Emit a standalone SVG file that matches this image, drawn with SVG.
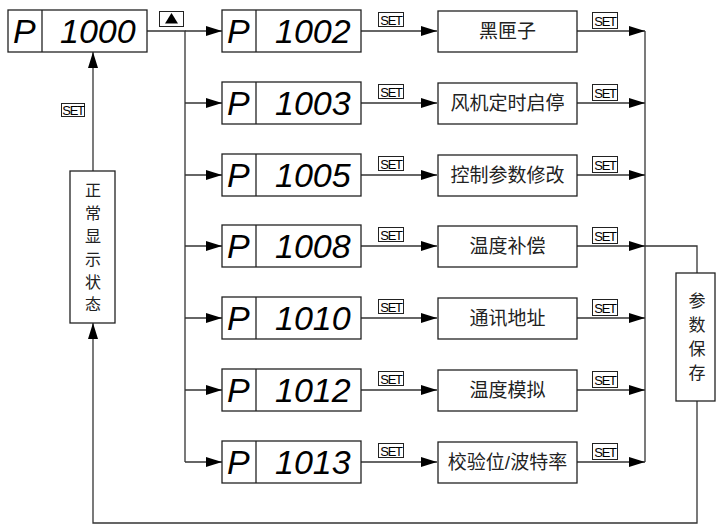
<svg xmlns="http://www.w3.org/2000/svg" width="716" height="526" viewBox="0 0 716 526">
<defs>
<marker id="ah" markerUnits="userSpaceOnUse" markerWidth="16" markerHeight="10" refX="16" refY="5" orient="auto">
<path d="M0,0 L16,5 L0,10 Z" fill="#000"/>
</marker>
<style>
.box{fill:#fff;stroke:#222;stroke-width:1.3}
.ln{fill:none;stroke:#333;stroke-width:1.3}
.seg{font-family:"Liberation Sans",Arial,sans-serif;font-style:italic;font-size:34px;fill:#000}
.cn{font-family:"Liberation Sans","Noto Sans CJK SC",sans-serif;font-size:19px;fill:#222;text-anchor:middle}
.vt{font-family:"Liberation Sans","Noto Sans CJK SC",sans-serif;font-size:16px;fill:#222;text-anchor:middle}
.set{fill:#fff;stroke:#222;stroke-width:1}
.st{font-family:"Liberation Sans",Arial,sans-serif;font-size:13px;fill:#000;text-anchor:middle;letter-spacing:-1.2px}
</style>
</defs>
<rect width="716" height="526" fill="#fff"/>

<g id="connectors">
<path class="ln" d="M147,31 H185 V462"/>
<path class="ln" d="M185,31 H222" marker-end="url(#ah)"/>
<path class="ln" d="M185,103 H222" marker-end="url(#ah)"/>
<path class="ln" d="M185,175 H222" marker-end="url(#ah)"/>
<path class="ln" d="M185,246 H222" marker-end="url(#ah)"/>
<path class="ln" d="M185,318 H222" marker-end="url(#ah)"/>
<path class="ln" d="M185,390 H222" marker-end="url(#ah)"/>
<path class="ln" d="M185,462 H222" marker-end="url(#ah)"/>
<path class="ln" d="M361,31 H437" marker-end="url(#ah)"/>
<path class="ln" d="M361,103 H437" marker-end="url(#ah)"/>
<path class="ln" d="M361,175 H437" marker-end="url(#ah)"/>
<path class="ln" d="M361,246 H437" marker-end="url(#ah)"/>
<path class="ln" d="M361,318 H437" marker-end="url(#ah)"/>
<path class="ln" d="M361,390 H437" marker-end="url(#ah)"/>
<path class="ln" d="M361,462 H437" marker-end="url(#ah)"/>
<path class="ln" d="M577,31 H645" marker-end="url(#ah)"/>
<path class="ln" d="M577,103 H645" marker-end="url(#ah)"/>
<path class="ln" d="M577,175 H645" marker-end="url(#ah)"/>
<path class="ln" d="M577,246 H645" marker-end="url(#ah)"/>
<path class="ln" d="M577,318 H645" marker-end="url(#ah)"/>
<path class="ln" d="M577,390 H645" marker-end="url(#ah)"/>
<path class="ln" d="M577,462 H645" marker-end="url(#ah)"/>
<path class="ln" d="M645,31 V462"/>
<path class="ln" d="M645,246 H697 V273"/>
<path class="ln" d="M697,401 V523 H93 V323" marker-end="url(#ah)"/>
<path class="ln" d="M93,171 V52" marker-end="url(#ah)"/>
<rect class="set" x="61.5" y="103.5" width="23" height="13"/>
<text class="st" x="73" y="114.5">SET</text>
</g>

<g id="p1000">
<rect class="box" x="8" y="10" width="139" height="42"/>
<line class="box" x1="42" y1="10" x2="42" y2="52"/>
<text class="seg" x="13" y="43">P</text>
<text class="seg" x="60" y="43">1000</text>
</g>

<g id="up-key">
<rect class="set" x="159.5" y="11.5" width="24" height="15"/>
<path d="M165,23.5 L171.5,13 L178,23.5 Z" fill="#000"/>
</g>

<g id="p1002">
<rect class="box" x="222" y="10" width="139" height="42"/>
<line class="box" x1="256" y1="10" x2="256" y2="52"/>
<text class="seg" x="227" y="43">P</text>
<text class="seg" x="275" y="43">1002</text>
<rect class="set" x="378.5" y="12.5" width="25" height="14"/><text class="st" x="391" y="24.5">SET</text>
</g>
<g id="n-heixiazi">
<rect class="box" x="438" y="11" width="139" height="41"/>
<text class="cn" x="507.5" y="38">黑匣子</text>
<rect class="set" x="592.5" y="12.5" width="25" height="16"/><text class="st" x="605" y="25.5">SET</text>
</g>

<g id="p1003">
<rect class="box" x="222" y="82" width="139" height="42"/>
<line class="box" x1="256" y1="82" x2="256" y2="124"/>
<text class="seg" x="227" y="115">P</text>
<text class="seg" x="275" y="115">1003</text>
<rect class="set" x="378.5" y="84.5" width="25" height="14"/><text class="st" x="391" y="96.5">SET</text>
</g>
<g id="n-fengji">
<rect class="box" x="438" y="83" width="139" height="41"/>
<text class="cn" x="507.5" y="110">风机定时启停</text>
<rect class="set" x="592.5" y="84.5" width="25" height="16"/><text class="st" x="605" y="97.5">SET</text>
</g>

<g id="p1005">
<rect class="box" x="222" y="154" width="139" height="42"/>
<line class="box" x1="256" y1="154" x2="256" y2="196"/>
<text class="seg" x="227" y="187">P</text>
<text class="seg" x="275" y="187">1005</text>
<rect class="set" x="378.5" y="156.5" width="25" height="14"/><text class="st" x="391" y="168.5">SET</text>
</g>
<g id="n-kongzhi">
<rect class="box" x="438" y="155" width="139" height="41"/>
<text class="cn" x="507.5" y="182">控制参数修改</text>
<rect class="set" x="592.5" y="156.5" width="25" height="16"/><text class="st" x="605" y="169.5">SET</text>
</g>

<g id="p1008">
<rect class="box" x="222" y="225" width="139" height="42"/>
<line class="box" x1="256" y1="225" x2="256" y2="267"/>
<text class="seg" x="227" y="258">P</text>
<text class="seg" x="275" y="258">1008</text>
<rect class="set" x="378.5" y="227.5" width="25" height="14"/><text class="st" x="391" y="239.5">SET</text>
</g>
<g id="n-wendubuchang">
<rect class="box" x="438" y="226" width="139" height="41"/>
<text class="cn" x="507.5" y="253">温度补偿</text>
<rect class="set" x="592.5" y="227.5" width="25" height="16"/><text class="st" x="605" y="240.5">SET</text>
</g>

<g id="p1010">
<rect class="box" x="222" y="297" width="139" height="42"/>
<line class="box" x1="256" y1="297" x2="256" y2="339"/>
<text class="seg" x="227" y="330">P</text>
<text class="seg" x="275" y="330">1010</text>
<rect class="set" x="378.5" y="299.5" width="25" height="14"/><text class="st" x="391" y="311.5">SET</text>
</g>
<g id="n-tongxun">
<rect class="box" x="438" y="298" width="139" height="41"/>
<text class="cn" x="507.5" y="325">通讯地址</text>
<rect class="set" x="592.5" y="299.5" width="25" height="16"/><text class="st" x="605" y="312.5">SET</text>
</g>

<g id="p1012">
<rect class="box" x="222" y="369" width="139" height="42"/>
<line class="box" x1="256" y1="369" x2="256" y2="411"/>
<text class="seg" x="227" y="402">P</text>
<text class="seg" x="275" y="402">1012</text>
<rect class="set" x="378.5" y="371.5" width="25" height="14"/><text class="st" x="391" y="383.5">SET</text>
</g>
<g id="n-wendumoni">
<rect class="box" x="438" y="370" width="139" height="41"/>
<text class="cn" x="507.5" y="397">温度模拟</text>
<rect class="set" x="592.5" y="371.5" width="25" height="16"/><text class="st" x="605" y="384.5">SET</text>
</g>

<g id="p1013">
<rect class="box" x="222" y="441" width="139" height="42"/>
<line class="box" x1="256" y1="441" x2="256" y2="483"/>
<text class="seg" x="227" y="474">P</text>
<text class="seg" x="275" y="474">1013</text>
<rect class="set" x="378.5" y="443.5" width="25" height="14"/><text class="st" x="391" y="455.5">SET</text>
</g>
<g id="n-jiaoyan">
<rect class="box" x="438" y="442" width="139" height="41"/>
<text class="cn" x="507.5" y="469">校验位/波特率</text>
<rect class="set" x="592.5" y="443.5" width="25" height="16"/><text class="st" x="605" y="456.5">SET</text>
</g>

<g id="normal-display">
<rect class="box" x="70" y="171" width="45" height="152"/>
<text class="vt" x="93" y="196">正</text>
<text class="vt" x="93" y="219">常</text>
<text class="vt" x="93" y="242">显</text>
<text class="vt" x="93" y="265">示</text>
<text class="vt" x="93" y="288">状</text>
<text class="vt" x="93" y="310">态</text>
</g>

<g id="param-save">
<rect class="box" x="676" y="273" width="39" height="128"/>
<text class="vt" x="697" y="307" style="font-size:17px">参</text>
<text class="vt" x="697" y="331" style="font-size:17px">数</text>
<text class="vt" x="697" y="355" style="font-size:17px">保</text>
<text class="vt" x="697" y="379" style="font-size:17px">存</text>
</g>
</svg>
